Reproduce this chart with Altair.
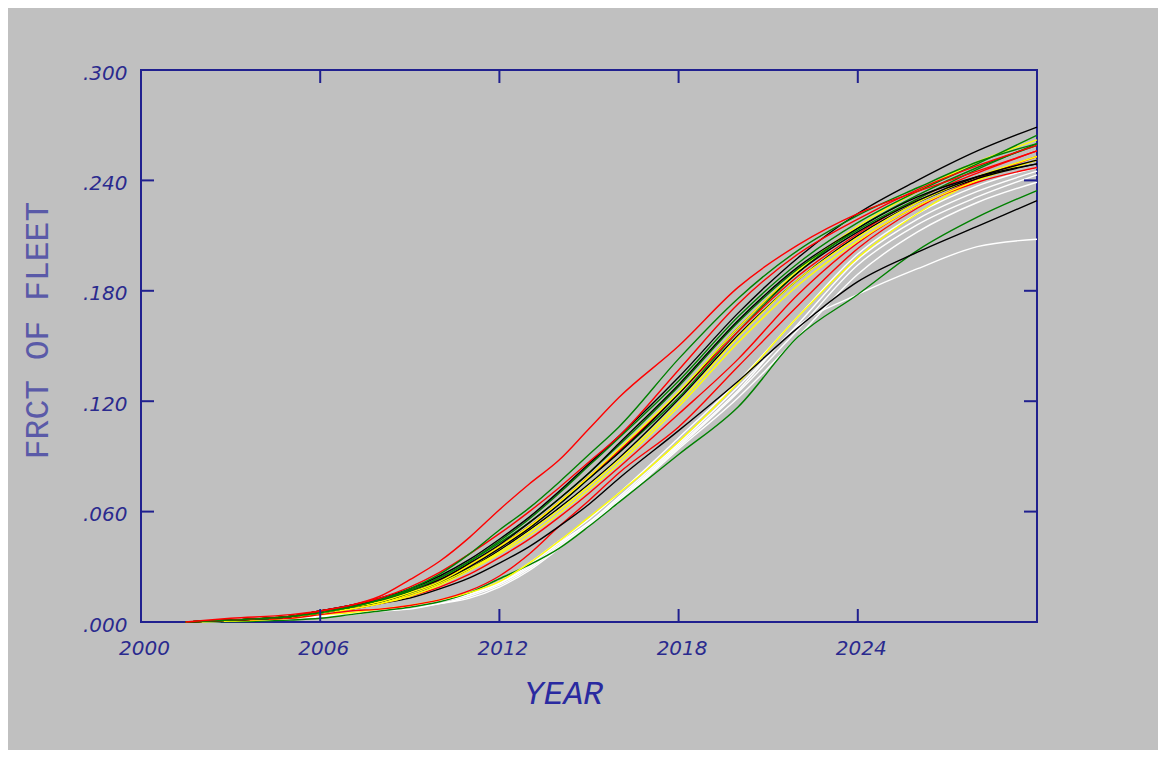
import altair as alt
import pandas as pd

years = [2001.5, 2003, 2005, 2006, 2007, 2008, 2009, 2010, 2011, 2012, 2013,
         2014, 2015, 2016, 2018, 2020, 2022, 2024, 2026, 2028, 2030]

# series values at `years`
W1 = [0, 0.0005, 0.002, 0.004, 0.005, 0.007, 0.009, 0.012, 0.016, 0.022, 0.032, 0.044, 0.056, 0.070, 0.100, 0.131, 0.166, 0.200, 0.222, 0.237, 0.247]
W2 = [0, 0.0005, 0.002, 0.004, 0.005, 0.006, 0.008, 0.011, 0.015, 0.021, 0.031, 0.043, 0.054, 0.068, 0.097, 0.128, 0.162, 0.197, 0.219, 0.234, 0.245]
W3 = [0, 0.0005, 0.002, 0.003, 0.005, 0.006, 0.008, 0.010, 0.014, 0.020, 0.029, 0.041, 0.053, 0.066, 0.095, 0.125, 0.159, 0.194, 0.216, 0.231, 0.243]
W4 = [0, 0.0005, 0.002, 0.003, 0.004, 0.006, 0.007, 0.010, 0.013, 0.019, 0.028, 0.040, 0.052, 0.065, 0.094, 0.122, 0.155, 0.189, 0.212, 0.228, 0.239]
W6 = [0, 0.0005, 0.002, 0.003, 0.005, 0.006, 0.008, 0.011, 0.015, 0.021, 0.030, 0.042, 0.054, 0.067, 0.096, 0.126, 0.161, 0.178, 0.192, 0.204, 0.208]
G5 = [0, 0.0002, 0.001, 0.002, 0.004, 0.006, 0.008, 0.011, 0.016, 0.0235, 0.031, 0.040, 0.052, 0.065, 0.091, 0.117, 0.155, 0.178, 0.202, 0.220, 0.2345]
Y4 = [0, 0.0005, 0.002, 0.004, 0.005, 0.007, 0.009, 0.012, 0.016, 0.022, 0.032, 0.044, 0.057, 0.070, 0.098, 0.130, 0.166, 0.198, 0.222, 0.240, 0.251]
R5 = [0, 0.001, 0.002, 0.004, 0.006, 0.007, 0.009, 0.012, 0.017, 0.025, 0.037, 0.052, 0.066, 0.081, 0.106, 0.139, 0.172, 0.203, 0.225, 0.241, 0.253]
B5 = [0, 0.001, 0.003, 0.005, 0.007, 0.010, 0.013, 0.018, 0.024, 0.032, 0.041, 0.052, 0.064, 0.078, 0.104, 0.131, 0.160, 0.185, 0.201, 0.215, 0.229]
R4 = [0, 0.001, 0.003, 0.005, 0.007, 0.010, 0.014, 0.019, 0.026, 0.035, 0.045, 0.057, 0.070, 0.084, 0.113, 0.143, 0.178, 0.206, 0.226, 0.239, 0.247]
Y3 = [0, 0.001, 0.003, 0.005, 0.007, 0.010, 0.014, 0.020, 0.028, 0.037, 0.047, 0.059, 0.072, 0.086, 0.117, 0.152, 0.183, 0.207, 0.226, 0.240, 0.251]
B4 = [0, 0.001, 0.003, 0.005, 0.008, 0.011, 0.015, 0.021, 0.029, 0.039, 0.050, 0.062, 0.075, 0.089, 0.121, 0.156, 0.186, 0.210, 0.228, 0.241, 0.249]
Y2 = [0, 0.001, 0.003, 0.005, 0.007, 0.010, 0.015, 0.021, 0.029, 0.038, 0.049, 0.061, 0.074, 0.088, 0.119, 0.155, 0.186, 0.209, 0.228, 0.242, 0.253]
G4 = [0, 0.001, 0.003, 0.005, 0.008, 0.011, 0.016, 0.022, 0.031, 0.041, 0.052, 0.064, 0.078, 0.092, 0.122, 0.158, 0.190, 0.214, 0.232, 0.247, 0.259]
R3 = [0, 0.001, 0.003, 0.006, 0.008, 0.012, 0.017, 0.023, 0.031, 0.041, 0.052, 0.065, 0.079, 0.093, 0.124, 0.158, 0.188, 0.211, 0.230, 0.244, 0.256]
B3 = [0, 0.001, 0.003, 0.005, 0.008, 0.011, 0.016, 0.022, 0.030, 0.040, 0.051, 0.064, 0.078, 0.092, 0.124, 0.160, 0.190, 0.212, 0.229, 0.242, 0.251]
Y1 = [0, 0.001, 0.003, 0.005, 0.008, 0.011, 0.016, 0.022, 0.031, 0.041, 0.052, 0.065, 0.079, 0.094, 0.125, 0.160, 0.191, 0.215, 0.234, 0.250, 0.262]
G3 = [0, 0.001, 0.003, 0.006, 0.008, 0.012, 0.017, 0.024, 0.033, 0.043, 0.054, 0.067, 0.081, 0.096, 0.128, 0.163, 0.192, 0.213, 0.230, 0.246, 0.260]
B2 = [0, 0.001, 0.003, 0.006, 0.009, 0.012, 0.017, 0.023, 0.032, 0.042, 0.054, 0.067, 0.081, 0.097, 0.129, 0.164, 0.193, 0.214, 0.231, 0.242, 0.249]
G2 = [0, 0.001, 0.003, 0.006, 0.008, 0.012, 0.017, 0.024, 0.033, 0.044, 0.056, 0.070, 0.085, 0.100, 0.131, 0.166, 0.195, 0.217, 0.234, 0.249, 0.2645]
B1 = [0, 0.001, 0.003, 0.006, 0.009, 0.013, 0.018, 0.025, 0.034, 0.045, 0.057, 0.071, 0.086, 0.101, 0.133, 0.168, 0.198, 0.222, 0.240, 0.256, 0.269]
R2 = [0, 0.001, 0.003, 0.006, 0.009, 0.013, 0.019, 0.027, 0.037, 0.048, 0.060, 0.073, 0.087, 0.101, 0.137, 0.173, 0.200, 0.219, 0.235, 0.248, 0.259]
G1 = [0, 0.001, 0.003, 0.005, 0.008, 0.012, 0.018, 0.026, 0.037, 0.050, 0.062, 0.076, 0.091, 0.106, 0.143, 0.176, 0.202, 0.221, 0.236, 0.250, 0.260]
R1 = [0, 0.002, 0.004, 0.006, 0.009, 0.014, 0.023, 0.033, 0.046, 0.061, 0.075, 0.088, 0.105, 0.122, 0.150, 0.182, 0.205, 0.222, 0.234, 0.245, 0.256]

series = [
    ("W1", "#ffffff", W1), ("W2", "#ffffff", W2), ("W3", "#ffffff", W3),
    ("W4", "#ffffff", W4), ("W6", "#ffffff", W6), ("G5", "#008000", G5),
    ("Y4", "#ffff00", Y4), ("R5", "#ff0000", R5), ("B5", "#000000", B5),
    ("R4", "#ff0000", R4), ("Y3", "#ffff00", Y3), ("B4", "#000000", B4),
    ("Y2", "#ffff00", Y2), ("G4", "#008000", G4), ("R3", "#ff0000", R3),
    ("B3", "#000000", B3), ("Y1", "#ffff00", Y1), ("G3", "#008000", G3),
    ("B2", "#000000", B2), ("G2", "#008000", G2), ("B1", "#000000", B1),
    ("R2", "#ff0000", R2), ("G1", "#008000", G1), ("R1", "#ff0000", R1),
]

x_ticks = [2006, 2012, 2018, 2024]
y_ticks = [0.06, 0.12, 0.18, 0.24]
x_labels = [2000, 2006, 2012, 2018, 2024]
y_labels = [0.0, 0.06, 0.12, 0.18, 0.24, 0.30]

rows = []
for i, (name, col, vals) in enumerate(series):
    for yr, v in zip(years, vals):
        rows.append({"series": name, "color": col, "year": yr, "value": v})
df = pd.DataFrame(rows)

NAVY = "#20208f"
LABEL = "#2a2a8e"
W, H = 896, 552

xscale = alt.Scale(domain=[2000, 2030], nice=False, zero=False)
yscale = alt.Scale(domain=[0, 0.3], nice=False, zero=True)

xaxis = alt.Axis(values=x_labels, format="d", title="YEAR", grid=False, ticks=False,
                 domain=False, labelFont="DejaVu Sans", labelFontStyle="italic",
                 labelFontSize=20, labelColor=LABEL, labelPadding=16, labelOffset=3,
                 labelFlush=False,
                 titleFont="Liberation Mono", titleFontStyle="italic", titleFontWeight="normal",
                 titleFontSize=33, titleColor="#2a2aa0", titleX=422, titleY=71,
                 titleAlign="center", titleBaseline="middle")
yaxis = alt.Axis(values=y_labels, labelExpr="substring(format(datum.value, '.3f'), 1)",
                 title="FRCT OF FLEET", grid=False, ticks=False, domain=False,
                 labelFont="DejaVu Sans", labelFontStyle="italic", labelFontSize=20,
                 labelColor=LABEL, labelPadding=14, labelOffset=3, labelFlush=False,
                 titleFont="Liberation Mono", titleFontWeight="normal", titleFontSize=33,
                 titleColor="#5a5aa8", titleX=-104, titleY=260, titleAngle=270,
                 titleAlign="center", titleBaseline="middle")

lines = alt.Chart(df).mark_line(strokeWidth=1.4, interpolate="monotone").encode(
    x=alt.X("year:Q", scale=xscale, axis=xaxis),
    y=alt.Y("value:Q", scale=yscale, axis=yaxis),
    color=alt.Color("color:N", scale=None),
    detail="series:N",
    order=alt.Order("year:Q"),
)

xt = pd.DataFrame({"year": x_ticks})
yt = pd.DataFrame({"value": y_ticks})

tick_b = alt.Chart(xt).mark_rule(color=NAVY, strokeWidth=2).encode(
    x=alt.X("year:Q"), y=alt.value(H), y2=alt.value(H - 13))
tick_t = alt.Chart(xt).mark_rule(color=NAVY, strokeWidth=2).encode(
    x=alt.X("year:Q"), y=alt.value(0), y2=alt.value(13))
tick_l = alt.Chart(yt).mark_rule(color=NAVY, strokeWidth=2).encode(
    y=alt.Y("value:Q"), x=alt.value(0), x2=alt.value(13))
tick_r = alt.Chart(yt).mark_rule(color=NAVY, strokeWidth=2).encode(
    y=alt.Y("value:Q"), x=alt.value(W), x2=alt.value(W - 13))

chart = alt.layer(lines, tick_b, tick_t, tick_l, tick_r).properties(
    width=W, height=H,
    autosize=alt.AutoSizeParams(type="none"),
    padding={"left": 133, "top": 62, "right": 121, "bottom": 128},
    background="#c0c0c0",
).configure_view(stroke=NAVY, strokeWidth=2)

chart.save("out.html", embed_options={"renderer": "svg", "actions": False})
